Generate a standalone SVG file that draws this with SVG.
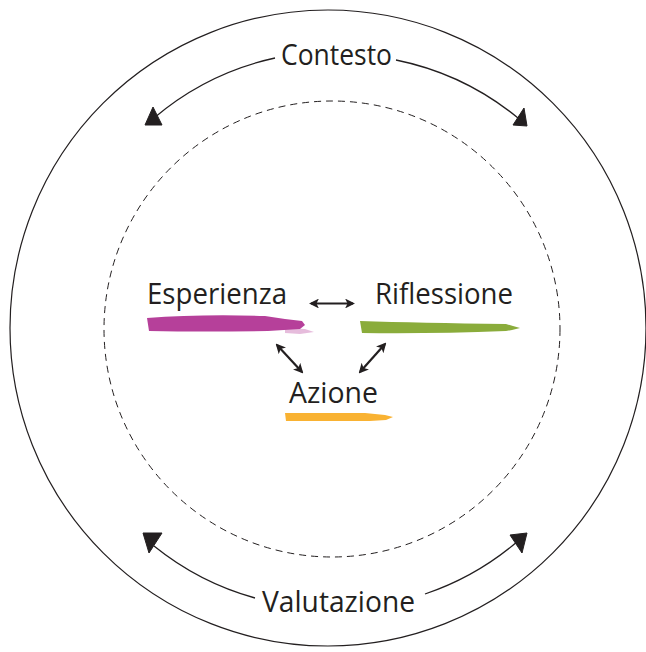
<svg xmlns="http://www.w3.org/2000/svg" width="646" height="652" viewBox="0 0 646 652">
<style>
.lbl{font-family:"Open Sans","Noto Sans","Liberation Sans",sans-serif;font-size:29px;fill:#231f20}
.ring{fill:none;stroke:#231f20;stroke-width:1.2}
.dash{fill:none;stroke:#231f20;stroke-width:1;stroke-dasharray:7 5}
.arc{fill:none;stroke:#231f20;stroke-width:1.3}
.head{fill:#231f20;stroke:#231f20;stroke-width:1;stroke-linejoin:round}
.small{fill:none;stroke:#231f20;stroke-width:2.2}
</style>
<defs>
<marker id="ah" viewBox="0 0 10 10" refX="8" refY="5" markerWidth="4.5" markerHeight="4.5" orient="auto-start-reverse" markerUnits="strokeWidth">
<path d="M0,0 L10,5 L0,10 L2.5,5 Z" fill="#231f20"/>
</marker>
</defs>
<rect width="646" height="652" fill="#ffffff"/>
<g id="outer-circle"><circle class="ring" cx="328" cy="328" r="318"/></g>
<g id="inner-circle"><circle class="dash" cx="332" cy="329" r="228"/></g>

<g id="contesto"><text class="lbl" x="281" y="65" textLength="111" lengthAdjust="spacingAndGlyphs">Contesto</text></g>
<g id="valutazione"><text class="lbl" x="262" y="612" textLength="153" lengthAdjust="spacingAndGlyphs">Valutazione</text></g>

<g id="esperienza">
<path d="M147,318 Q200,314 265,316 L285,319 L302,321 L305,325 L300,329 L268,331 Q205,332 149,331 Z" fill="#b6409a"/>
<path d="M285,328 L305,329 L314,332 L300,334 L285,333 Z" fill="#b6409a" opacity="0.35"/>
<text class="lbl" x="147" y="304" textLength="140" lengthAdjust="spacingAndGlyphs">Esperienza</text>
</g>
<g id="riflessione">
<path d="M360,321 Q420,323 506,324 L513,326 L520,328 L512,330 L506,331 Q430,334 362,333 Z" fill="#8aac3b"/>
<text class="lbl" x="375" y="304" textLength="138" lengthAdjust="spacingAndGlyphs">Riflessione</text>
</g>
<g id="azione">
<path d="M285,413 L365,413 L385,415 L393,417 L386,420 L370,421 L286,421 Z" fill="#f9b232"/>
<text class="lbl" x="289" y="403" textLength="89" lengthAdjust="spacingAndGlyphs">Azione</text>
</g>

<g id="connectors">
<path class="arc" d="M275,58 A279 279 0 0 0 154,118"/>
<polygon class="head" points="145,125 162,125 153,107"/>
<path class="arc" d="M396,60 A280 280 0 0 1 518,118"/>
<polygon class="head" points="513,125 527,126 524,108"/>
<path class="arc" d="M255,598 A279 279 0 0 1 154,546"/>
<polygon class="head" points="143,533 162,533 149,553"/>
<path class="arc" d="M425,594 A280 280 0 0 0 518,541"/>
<polygon class="head" points="510,535 527,533 522,553"/>
<line class="small" x1="311" y1="303.5" x2="353" y2="303.5" marker-start="url(#ah)" marker-end="url(#ah)"/>
<line class="small" x1="277" y1="345" x2="302" y2="372" marker-start="url(#ah)" marker-end="url(#ah)"/>
<line class="small" x1="385" y1="344" x2="360" y2="372" marker-start="url(#ah)" marker-end="url(#ah)"/>
</g>
</svg>
